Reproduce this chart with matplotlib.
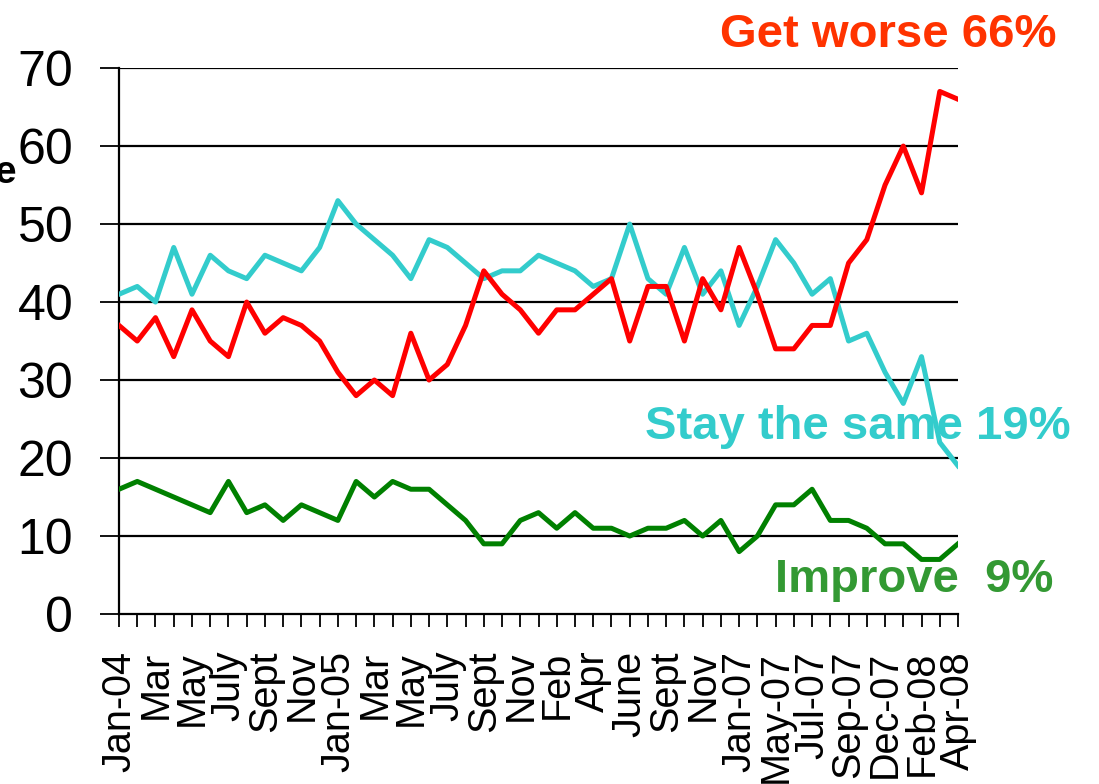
import matplotlib.pyplot as plt

plt.rcParams['font.family'] = ['Liberation Sans', 'DejaVu Sans']

# survey months, one label shown on every other point
tick_labels = ['Jan-04', 'Mar', 'May', 'July', 'Sept', 'Nov', 'Jan-05', 'Mar', 'May', 'July',
               'Sept', 'Nov', 'Feb', 'Apr', 'June', 'Sept', 'Nov', 'Jan-07', 'May-07', 'Jul-07',
               'Sep-07', 'Dec-07', 'Feb-08', 'Apr-08']

get_worse = [37, 35, 38, 33, 39, 35, 33, 40, 36, 38,
             37, 35, 31, 28, 30, 28, 36, 30, 32, 37,
             44, 41, 39, 36, 39, 39, 41, 43, 35, 42,
             42, 35, 43, 39, 47, 41, 34, 34, 37, 37,
             45, 48, 55, 60, 54, 67, 66]
stay_same = [41, 42, 40, 47, 41, 46, 44, 43, 46, 45,
             44, 47, 53, 50, 48, 46, 43, 48, 47, 45,
             43, 44, 44, 46, 45, 44, 42, 43, 50, 43,
             41, 47, 41, 44, 37, 42, 48, 45, 41, 43,
             35, 36, 31, 27, 33, 22, 19]
improve = [16, 17, 16, 15, 14, 13, 17, 13, 14, 12,
           14, 13, 12, 17, 15, 17, 16, 16, 14, 12,
           9, 9, 12, 13, 11, 13, 11, 11, 10, 11,
           11, 12, 10, 12, 8, 10, 14, 14, 16, 12,
           12, 11, 9, 9, 7, 7, 9]

x = list(range(len(get_worse)))

fig = plt.figure(figsize=(10.99, 7.84), dpi=100)
ax = fig.add_axes([0.1083, 0.2168, 0.7634, 0.6964])

for v in range(10, 71, 10):
    ax.axhline(v, color='black', linewidth=1.6, zorder=1)

ax.plot(x, stay_same, color='#33CCCC', linewidth=3.6, zorder=3)
ax.plot(x, get_worse, color='#FF0000', linewidth=3.6, zorder=4)
ax.plot(x, improve, color='#008000', linewidth=3.6, zorder=3)

ax.set_xlim(0, len(x) - 1)
ax.set_ylim(0, 70)
ax.set_yticks(range(0, 71, 10))
ax.tick_params(axis='y', labelsize=36, length=14, width=1.3, pad=19, direction='out')

ax.set_xticks(x)
labels = []
for i in x:
    if i % 2 == 0:
        labels.append(tick_labels[i // 2])
    else:
        labels.append('')
ax.set_xticklabels(labels, rotation=90)
ax.tick_params(axis='x', labelsize=28.5, length=9.5, width=1.3, pad=17, direction='out')

for s in ['top', 'right']:
    ax.spines[s].set_visible(False)
for s in ['left', 'bottom']:
    ax.spines[s].set_linewidth(1.6)

fig.text(888 / 1099, (784 - 47) / 784, 'Get worse 66%', color='#FF3300', fontsize=34,
         fontweight='bold', ha='center', va='baseline')
fig.text(645 / 1099, (784 - 439) / 784, 'Stay the same 19%', color='#33CCCC', fontsize=34,
         fontweight='bold', ha='left', va='baseline')
fig.text(775 / 1099, (784 - 592) / 784, 'Improve  9%', color='#339933', fontsize=34,
         fontweight='bold', ha='left', va='baseline')
# axis title cut off at the left edge, as in the source picture
fig.text(17 / 1099, (784 - 183) / 784, 'Percentage', color='black', fontsize=28,
         fontweight='bold', ha='right', va='baseline')

plt.savefig('out.png', dpi=100)
